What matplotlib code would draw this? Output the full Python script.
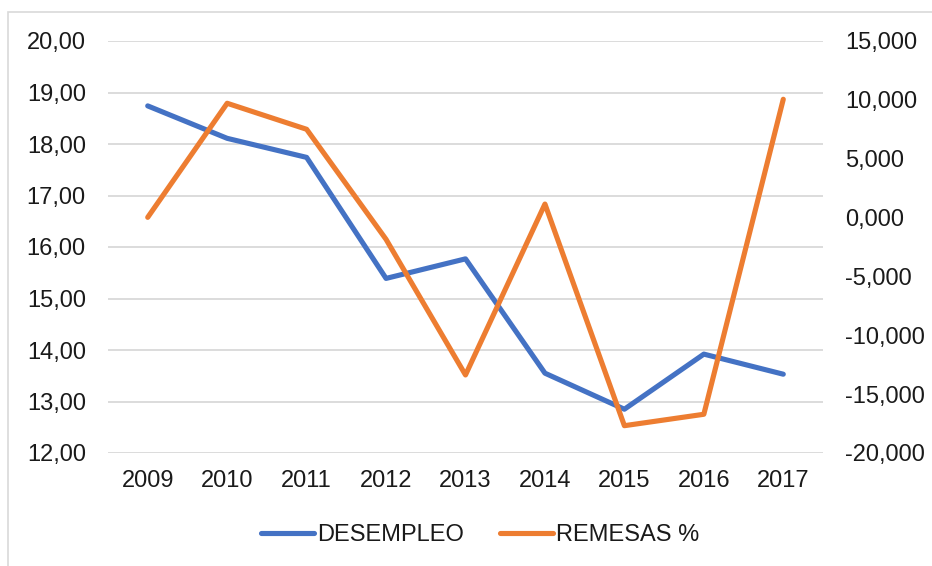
import numpy as np
import matplotlib.pyplot as plt
from matplotlib.patches import Rectangle

# Datos
anios = ['2009', '2010', '2011', '2012', '2013', '2014', '2015', '2016', '2017']
desempleo = [18.74, 18.11, 17.74, 15.39, 15.77, 13.55, 12.85, 13.92, 13.53]
remesas = [0.02, 9.71, 7.50, -1.85, -13.37, 1.15, -17.68, -16.71, 10.05]

azul = '#4472C4'
naranja = '#ED7D31'
gris = '#D9D9D9'
texto = '#1a1a1a'

plt.rcParams['font.family'] = ['Liberation Sans', 'DejaVu Sans']

fig = plt.figure(figsize=(9.32, 5.66), dpi=100)
# borde del area del grafico
fig.patches.append(Rectangle((8 / 932, -0.1), 1.2, 1 - 12 / 566 + 0.1,
                             transform=fig.transFigure, fill=False,
                             edgecolor=gris, linewidth=1.2))

ax = fig.add_axes([108 / 932, 1 - 453 / 566, 715 / 932, 412 / 566])
ax2 = ax.twinx()

x = np.arange(len(anios))
l1, = ax.plot(x, desempleo, color=azul, lw=3.7, solid_capstyle='round',
              solid_joinstyle='round', label='DESEMPLEO', zorder=3)
l2, = ax2.plot(x, remesas, color=naranja, lw=3.7, solid_capstyle='round',
               solid_joinstyle='round', label='REMESAS %', zorder=3)

ax.set_xlim(-0.5, len(anios) - 0.5)
ax.set_ylim(12, 20)
ax2.set_ylim(-20, 15)

izq = np.arange(12, 21, 1)
ax.set_yticks(izq)
ax.set_yticklabels([f"{v:.2f}".replace('.', ',') for v in izq])
der = np.arange(-20, 16, 5)
ax2.set_yticks(der)
ax2.set_yticklabels([f"{v:.3f}".replace('.', ',') for v in der])
ax.set_xticks(x)
ax.set_xticklabels(anios)

ax.grid(axis='y', color=gris, lw=1.3)
ax.set_axisbelow(True)
for a in (ax, ax2):
    for s in a.spines.values():
        s.set_visible(False)
ax.tick_params(axis='y', length=0, pad=16, labelsize=17, labelcolor=texto)
ax.tick_params(axis='x', length=0, pad=12, labelsize=17, labelcolor=texto)
ax2.tick_params(axis='y', length=0, pad=16, labelsize=17, labelcolor=texto)

ax2.set_zorder(ax.get_zorder() + 1)
ax.patch.set_visible(False)

fig.legend(handles=[l1, l2], loc='center', bbox_to_anchor=(480 / 932, 1 - 535 / 566),
           ncol=2, frameon=False, fontsize=17, handlelength=2.25,
           handletextpad=0.15, columnspacing=1.5, labelcolor=texto)

fig.savefig('out.png', dpi=100)
